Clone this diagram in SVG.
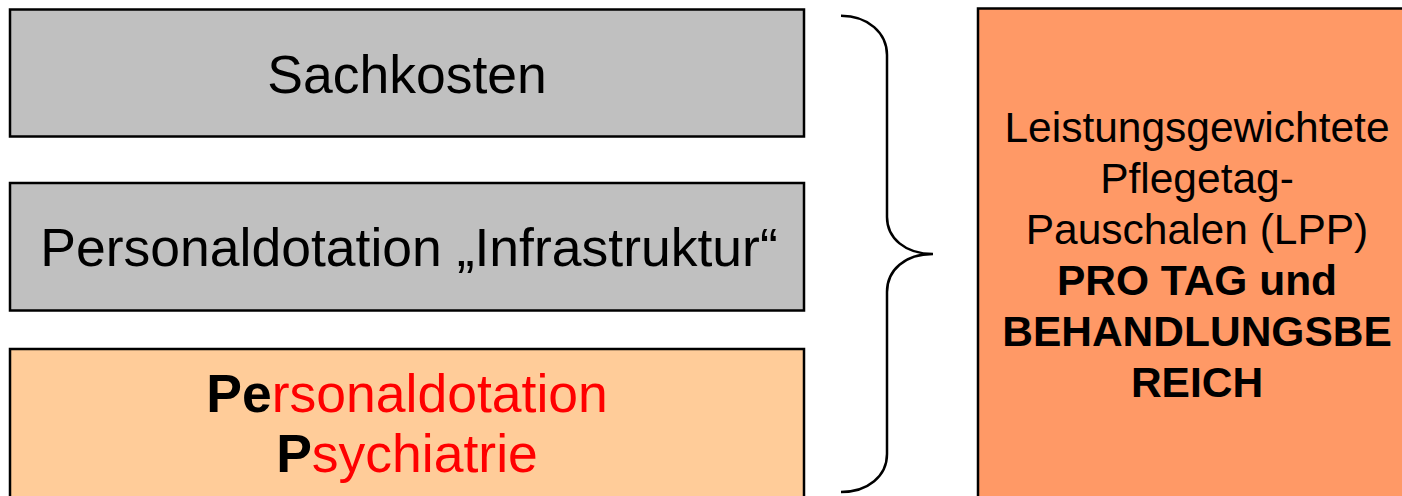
<svg xmlns="http://www.w3.org/2000/svg" width="1402" height="496" viewBox="0 0 1402 496">
<style>
.box{stroke:#000;stroke-width:2.5}
.t{font-family:"Liberation Sans",Arial,sans-serif;fill:#000;text-anchor:middle}
.l{font-size:53.5px}
.r{font-size:42.5px}
.b{font-weight:bold}
.red{fill:#FF0000}
</style>
<rect width="1402" height="496" fill="#fff"/>
<g id="sachkosten">
<rect class="box" x="10" y="9.5" width="794" height="127" fill="#C0C0C0"/>
<text class="t l" x="407" y="92.5">Sachkosten</text>
</g>
<g id="personal-infra">
<rect class="box" x="10" y="183" width="794" height="127.5" fill="#C0C0C0"/>
<text class="t l" x="409" y="266">Personaldotation „Infrastruktur“</text>
</g>
<g id="personal-psych">
<rect class="box" x="10" y="349" width="794" height="160" fill="#FFCC99"/>
<text class="t l" x="407" y="411.5"><tspan class="b">Pe</tspan><tspan class="red">rsonaldotation</tspan></text>
<text class="t l" x="407" y="471.5"><tspan class="b">P</tspan><tspan class="red">sychiatrie</tspan></text>
</g>
<g id="connectors">
<path d="M841,15.7 C868,15.7 887,33 887,55 L887,217 C887,238 905,254 933,254 C905,254 887,270 887,292 L887,454 C887,476 868,492 841,492" fill="none" stroke="#000" stroke-width="2.5"/>
</g>
<g id="lpp">
<rect class="box" x="978" y="8.5" width="440" height="500" fill="#FF9966"/>
<text class="t r" x="1197" y="141.7">Leistungsgewichtete</text>
<text class="t r" x="1197" y="192.7">Pflegetag-</text>
<text class="t r" x="1197" y="243.5">Pauschalen (LPP)</text>
<text class="t r b" x="1197" y="295">PRO TAG und</text>
<text class="t r b" x="1197" y="345.5">BEHANDLUNGSBE</text>
<text class="t r b" x="1197" y="396.5">REICH</text>
</g>
</svg>
